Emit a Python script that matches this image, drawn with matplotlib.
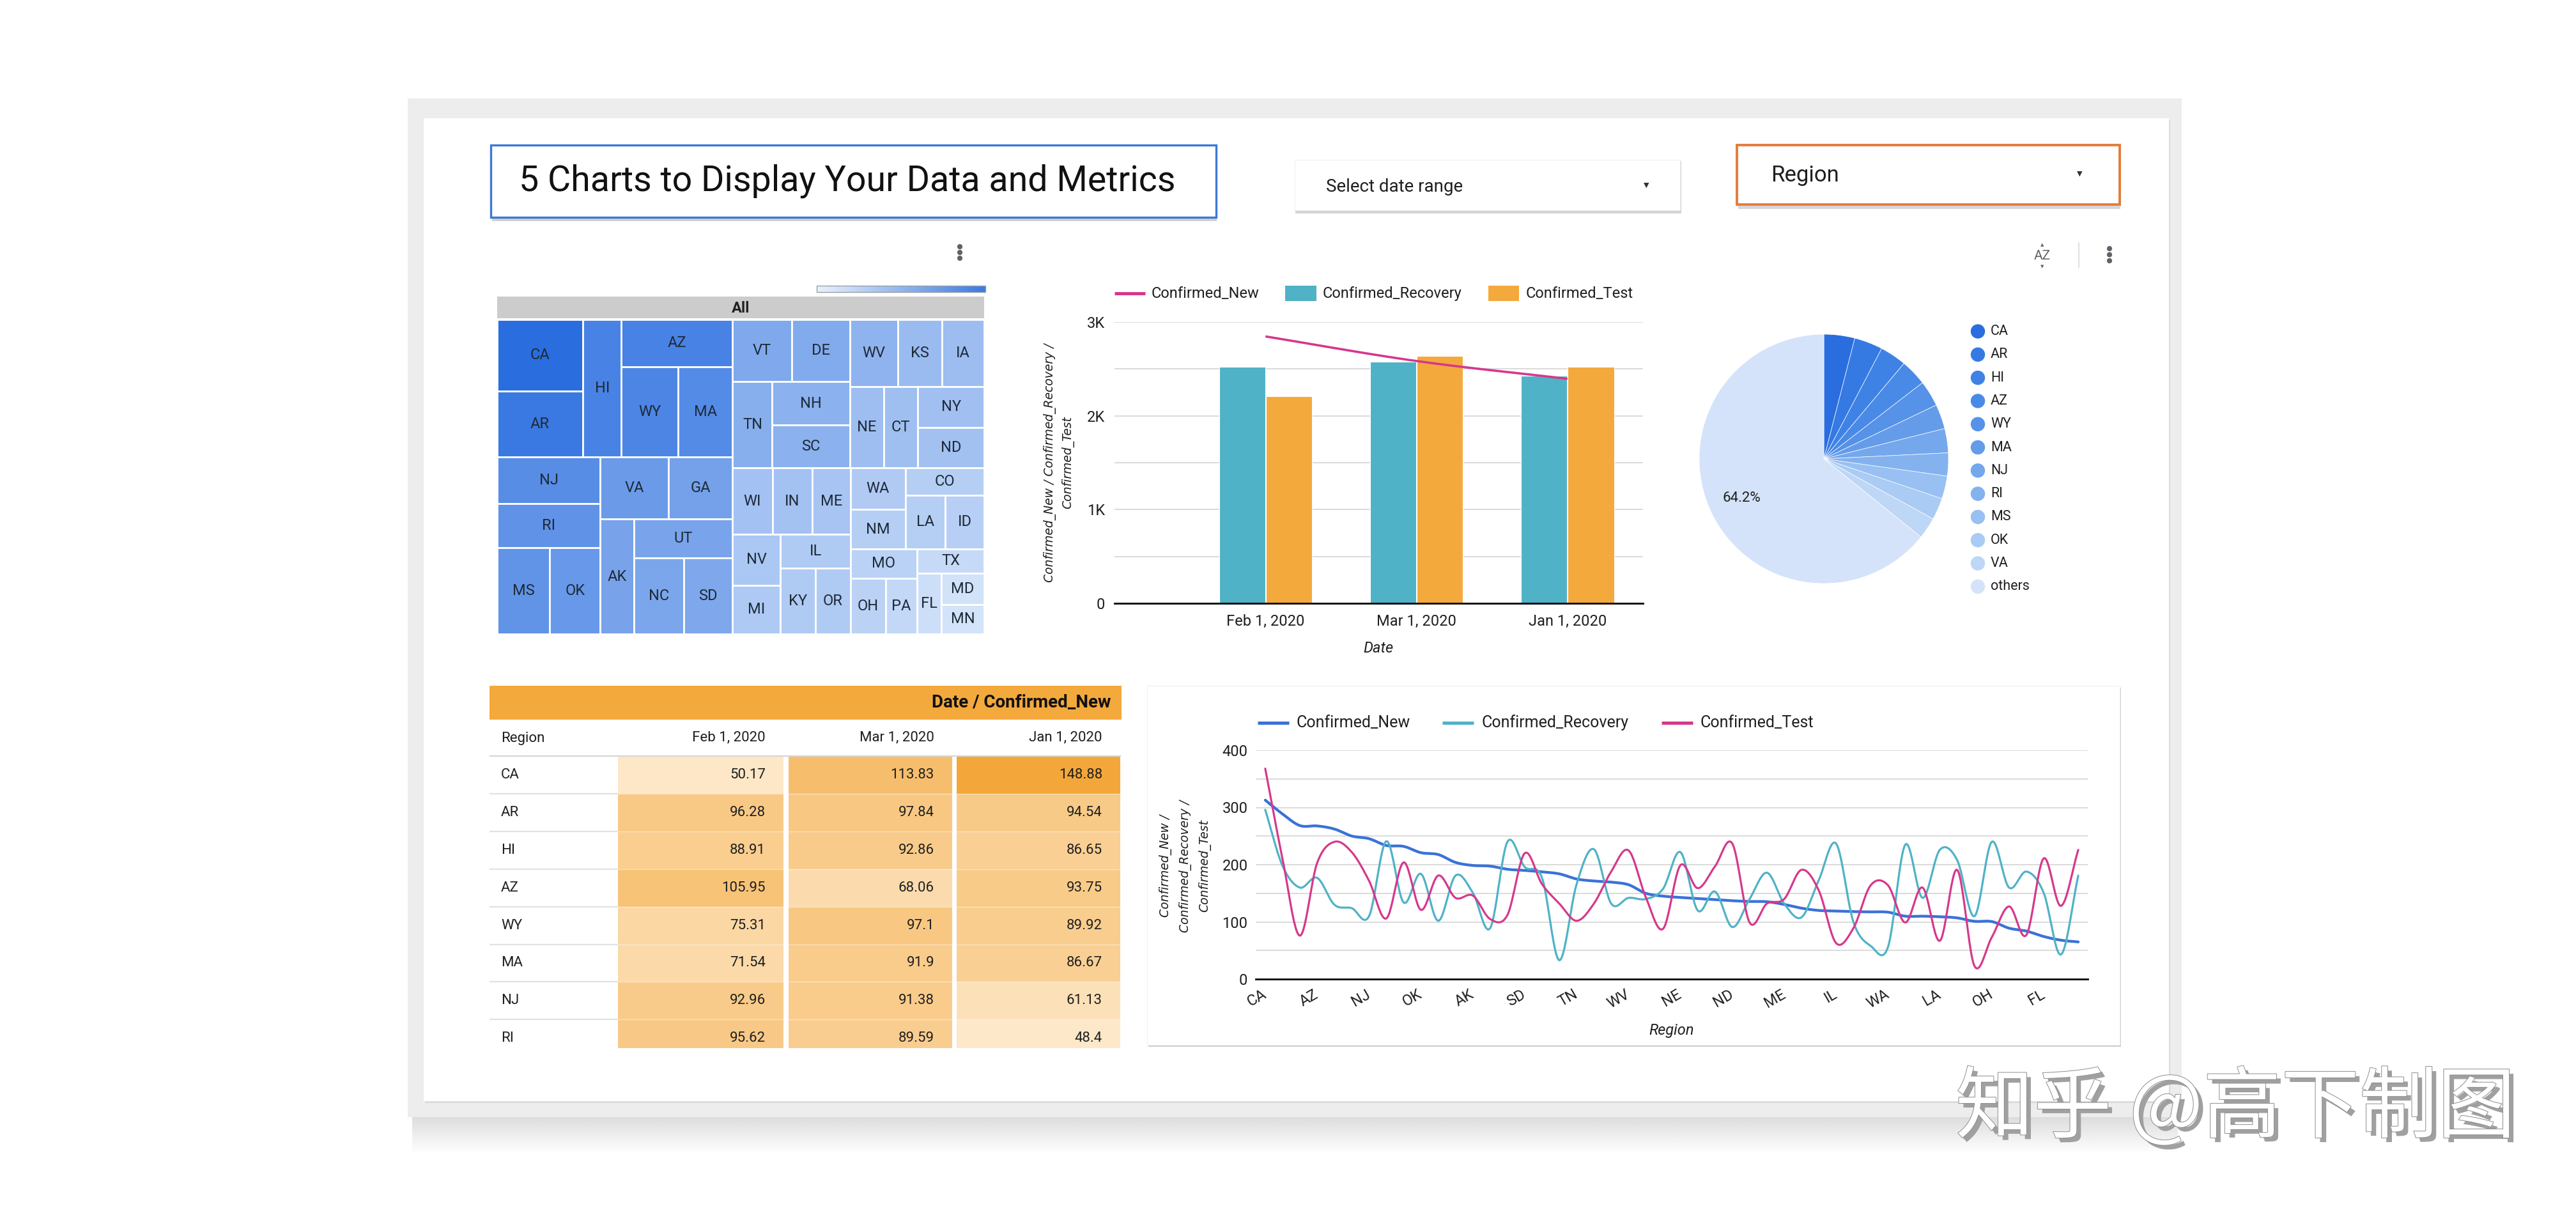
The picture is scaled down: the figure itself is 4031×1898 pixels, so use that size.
import numpy as np
import matplotlib
matplotlib.use("Agg")
import matplotlib.pyplot as plt
from matplotlib.patches import Rectangle, Circle
import matplotlib.patheffects as pe
from matplotlib.colors import LinearSegmentedColormap, Normalize

plt.rcParams['font.family'] = ['Roboto', 'DejaVu Sans']

W, H = 4031, 1898

# ---------------- data ----------------
regions = ["CA", "AR", "HI", "AZ", "WY", "MA", "NJ", "RI", "MS", "OK", "VA", "GA",
           "AK", "UT", "NC", "SD", "VT", "DE", "TN", "NH", "SC", "WV", "KS", "IA",
           "NE", "CT", "NY", "ND", "WI", "IN", "ME", "NV", "MI", "IL", "KY", "OR",
           "WA", "NM", "CO", "LA", "ID", "MO", "OH", "PA", "TX", "FL", "MD", "MN"]
confirmed_new = [312.88, 288.66, 268.42, 267.76, 262.33, 250.11, 245.47, 233.61, 232, 221, 217.76, 204,
                 198.7, 197.5, 192, 190, 187.5, 184, 175, 171.5, 169.6, 165, 150, 145,
                 142.7, 141, 139, 137, 135.7, 135.3, 130.5, 124, 120, 119, 118, 117.5,
                 117, 110, 110, 109, 107, 101, 100.6, 89, 84, 74.5, 68, 65]
confirmed_recovery = [296, 198, 160, 177, 130, 124, 110, 241, 134, 184, 102, 181,
                      151, 89, 240, 196, 177, 33, 166, 227, 132, 142, 140, 158,
                      222, 120, 153, 91, 140, 186, 132, 108, 173, 237, 100, 58,
                      56, 235, 142, 226, 208, 110, 240, 160, 188, 151, 43, 181]
confirmed_test = [368, 210, 76, 203, 240, 222, 172, 106, 204, 121, 181, 142,
                  146, 105, 112, 220, 166, 132, 102, 132, 188, 225, 143, 88,
                  199, 159, 197, 237, 99, 132, 140, 191, 155, 63, 89, 164,
                  164, 99, 160, 67, 191, 23, 73, 127, 77, 211, 128, 226]

bar_dates = ["Feb 1, 2020", "Mar 1, 2020", "Jan 1, 2020"]
bar_recovery = [2525, 2580, 2430]
bar_test = [2211, 2636, 2525]
bar_new = [2847, 2585, 2395]

table_regions = ["CA", "AR", "HI", "AZ", "WY", "MA", "NJ", "RI"]
table_dates = ["Feb 1, 2020", "Mar 1, 2020", "Jan 1, 2020"]
table_feb = [50.17, 96.28, 88.91, 105.95, 75.31, 71.54, 92.96, 95.62]
table_mar = [113.83, 97.84, 92.86, 68.06, 97.1, 91.9, 91.38, 89.59]
table_jan = [148.88, 94.54, 86.65, 93.75, 89.92, 86.67, 61.13, 48.4]

pie_top_n = 11
pie_colors = ['#2a6ddf', '#357ae3', '#3f82e5', '#4a8ae7', '#5592e8', '#649cea',
              '#74a7ec', '#84b2ef', '#98c0f2', '#a9cbf4', '#bed7f6', '#d4e3f9']

C_NEW = '#3a72d8'
C_REC = '#4fb2c6'
C_TEST = '#d6388c'
C_ORANGE = '#f4a93c'
TXT = '#1f1f1f'

# ---------------- helpers ----------------
fig = plt.figure(figsize=(W / 100, H / 100), dpi=100)
fig.patch.set_facecolor('white')


def px_axes(x0, y0, x1, y1, z=2):
    ax = fig.add_axes([x0 / W, 1 - y1 / H, (x1 - x0) / W, (y1 - y0) / H])
    ax.set_zorder(z)
    ax.patch.set_alpha(0)
    return ax


def smooth(y, n=24):
    y = np.asarray(y, float)
    if len(y) < 2:
        return np.arange(len(y)), y
    p = np.concatenate([[2 * y[0] - y[1]], y, [2 * y[-1] - y[-2]]])
    t = np.linspace(0, 1, n, endpoint=False)
    h00 = 2 * t**3 - 3 * t**2 + 1
    h10 = t**3 - 2 * t**2 + t
    h01 = -2 * t**3 + 3 * t**2
    h11 = t**3 - t**2
    xs, ys = [], []
    for i in range(len(y) - 1):
        p0, p1, p2, p3 = p[i], p[i + 1], p[i + 2], p[i + 3]
        m1 = (p2 - p0) / 2
        m2 = (p3 - p1) / 2
        ys.append(h00 * p1 + h10 * m1 + h01 * p2 + h11 * m2)
        xs.append(i + t)
    xs.append([len(y) - 1])
    ys.append([y[-1]])
    return np.concatenate(xs), np.concatenate(ys)


def binary_layout(vals, idx, x0, y0, x1, y1, out):
    if len(idx) == 1:
        out[idx[0]] = (x0, y0, x1, y1)
        return
    v = np.array([vals[i] for i in idx], float)
    total = v.sum()
    cum = np.cumsum(v)
    k = int(np.sum(cum <= total / 2))
    k = min(max(k, 1), len(idx) - 1)
    frac = cum[k - 1] / total
    if (x1 - x0) > (y1 - y0):
        xk = x0 + (x1 - x0) * frac
        binary_layout(vals, idx[:k], x0, y0, xk, y1, out)
        binary_layout(vals, idx[k:], xk, y0, x1, y1, out)
    else:
        yk = y0 + (y1 - y0) * frac
        binary_layout(vals, idx[:k], x0, y0, x1, yk, out)
        binary_layout(vals, idx[k:], x0, yk, x1, y1, out)


# ---------------- background / frame ----------------
bg = px_axes(0, 0, W, H, z=0)
bg.set_xlim(0, W)
bg.set_ylim(H, 0)
bg.axis('off')

grad = np.linspace(0.86, 1.0, 60)[:, None]
bg.imshow(grad, extent=(645, 3408, 1805, 1746), cmap='gray', vmin=0, vmax=1,
          aspect='auto', zorder=0)
bg.add_patch(Rectangle((638, 154), 2776, 1594, facecolor='#ededed', edgecolor='none', zorder=1))
bg.add_patch(Rectangle((665, 188), 2731, 1538, facecolor='#dcdcdc', edgecolor='none', zorder=1.5))
bg.add_patch(Rectangle((663, 185), 2731, 1538, facecolor='white', edgecolor='none', zorder=2))

# title box
bg.add_patch(Rectangle((770, 341), 1134, 5, facecolor='#d0d0d0', edgecolor='none', zorder=2.5))
bg.add_patch(Rectangle((768, 227), 1135, 113, facecolor='white', edgecolor='#3c78d8',
                       linewidth=2.4, zorder=3))
bg.text(812, 283, "5 Charts to Display Your Data and Metrics", fontsize=40, color='#111111',
        ha='left', va='center', zorder=4)

# date range box
bg.add_patch(Rectangle((2027, 252), 604, 82, facecolor='#d4d4d4', edgecolor='none', zorder=2.5))
bg.add_patch(Rectangle((2026, 250), 603, 79, facecolor='white', edgecolor='#ececec',
                       linewidth=0.6, zorder=3))
bg.text(2075, 292, "Select date range", fontsize=20, color=TXT, ha='left', va='center', zorder=4)
bg.text(2576, 290, "\u25BC", fontsize=8, family='DejaVu Sans', color='#333333',
        ha='center', va='center', zorder=4)

# region box
bg.add_patch(Rectangle((2720, 322), 598, 5, facecolor='#d6d6d6', edgecolor='none', zorder=2.5))
bg.add_patch(Rectangle((2718, 227), 599, 93, facecolor='white', edgecolor='#e47b3b',
                       linewidth=2.8, zorder=3))
bg.text(2771, 274, "Region", fontsize=25, color=TXT, ha='left', va='center', zorder=4)
bg.text(3254, 272, "\u25BC", fontsize=8, family='DejaVu Sans', color='#333333',
        ha='center', va='center', zorder=4)

# icons
for k in range(3):
    bg.add_patch(Circle((1502, 386 + 9 * k), 3.4, color='#5f6368', zorder=4))
    bg.add_patch(Circle((3301, 389 + 9.5 * k), 3.4, color='#5f6368', zorder=4))
bg.plot([3253, 3253], [380, 418], color='#dadce0', lw=1.3, zorder=4)
bg.text(3196, 400, "AZ", fontsize=15, color='#5f6368', ha='center', va='center', zorder=4)
bg.text(3196, 383, "\u25B2", fontsize=5, family='DejaVu Sans', color='#5f6368', ha='center', va='center', zorder=4)
bg.text(3196, 417, "\u25BC", fontsize=5, family='DejaVu Sans', color='#5f6368', ha='center', va='center', zorder=4)

# ---------------- treemap ----------------
tm_cmap = LinearSegmentedColormap.from_list('tm', ['#d3e3f9', '#2a6ddf'])
tm_norm = Normalize(min(confirmed_new), max(confirmed_new))

bg.add_patch(Rectangle((778, 464), 762, 34, facecolor='#cccccc', edgecolor='none', zorder=3))
bg.text(1159, 482, "All", fontsize=17, fontweight='bold', color='#222222',
        ha='center', va='center', zorder=4)
cb = np.linspace(0, 1, 256)[None, :]
bg.imshow(cb, extent=(1278, 1542, 457, 447), cmap=LinearSegmentedColormap.from_list('cb', ['#eaf1fc', '#3a7be0']),
          aspect='auto', zorder=3)
bg.add_patch(Rectangle((1278, 447), 264, 10, facecolor='none', edgecolor='#9aa0a6', linewidth=1.0, zorder=4))

ax_tm = px_axes(778, 500, 1540, 992)
ax_tm.set_xlim(0, 762)
ax_tm.set_ylim(492, 0)
ax_tm.axis('off')
cells = {}
binary_layout(confirmed_new, list(range(len(regions))), 0, 0, 762, 492, cells)
for i, reg in enumerate(regions):
    x0, y0, x1, y1 = cells[i]
    ax_tm.add_patch(Rectangle((x0, y0), x1 - x0, y1 - y0, facecolor=tm_cmap(tm_norm(confirmed_new[i])),
                              edgecolor='white', linewidth=2.0))
    ax_tm.text((x0 + x1) / 2, (y0 + y1) / 2, reg, fontsize=17, color='#1e2a38',
               ha='center', va='center')

# ---------------- bar + line combo chart ----------------
ax_bar = px_axes(1744, 504, 2571, 944)
xb = np.arange(len(bar_dates))
ax_bar.bar(xb - 0.155, bar_recovery, width=0.305, color=C_REC, edgecolor='white', linewidth=0.8, zorder=3)
ax_bar.bar(xb + 0.155, bar_test, width=0.305, color=C_ORANGE, edgecolor='white', linewidth=0.8, zorder=3)
sx, sy = smooth(bar_new)
ax_bar.plot(sx, sy, color=C_TEST, lw=2.6, zorder=4, solid_capstyle='butt')
ax_bar.set_xlim(-1, 2.5)
ax_bar.set_ylim(0, 3000)
yt = np.arange(0, 3001, 500)
ax_bar.set_yticks(yt)
ax_bar.set_yticklabels(['0' if v == 0 else (f"{v // 1000}K" if v % 1000 == 0 else '') for v in yt])
ax_bar.set_xticks(xb)
ax_bar.set_xticklabels(bar_dates)
ax_bar.yaxis.grid(True, color='#d4d4d4', lw=1.2)
ax_bar.set_axisbelow(True)
for s in ['top', 'right', 'left']:
    ax_bar.spines[s].set_visible(False)
ax_bar.spines['bottom'].set_color('black')
ax_bar.spines['bottom'].set_linewidth(2.0)
ax_bar.spines['bottom'].set_zorder(5)
ax_bar.tick_params(axis='both', length=0, labelsize=17, colors=TXT)
ax_bar.tick_params(axis='y', pad=11)
ax_bar.tick_params(axis='x', pad=12)

bg.plot([1744, 1792], [459, 459], color=C_TEST, lw=3.6, solid_capstyle='butt', zorder=4)
bg.text(1802, 459, "Confirmed_New", fontsize=17, color=TXT, ha='left', va='center', zorder=4)
bg.add_patch(Rectangle((2011, 447), 49, 24, facecolor=C_REC, edgecolor='none', zorder=4))
bg.text(2070, 459, "Confirmed_Recovery", fontsize=17, color=TXT, ha='left', va='center', zorder=4)
bg.add_patch(Rectangle((2329, 447), 48, 24, facecolor=C_ORANGE, edgecolor='none', zorder=4))
bg.text(2388, 459, "Confirmed_Test", fontsize=17, color=TXT, ha='left', va='center', zorder=4)
bg.text(1657, 724, "Confirmed_New / Confirmed_Recovery /\nConfirmed_Test", fontsize=13.5,
        family='DejaVu Sans', style='italic', rotation=90, ha='center', va='center',
        multialignment='center', linespacing=1.55, color=TXT, zorder=4)
bg.text(2157, 1014, "Date", fontsize=17, style='italic', color=TXT, ha='center', va='center', zorder=4)

# ---------------- pie ----------------
ax_pie = px_axes(2659, 523, 3049, 913)
pie_vals = confirmed_new[:pie_top_n] + [sum(confirmed_new[pie_top_n:])]
pie_labels = regions[:pie_top_n] + ['others']
ax_pie.pie(pie_vals, colors=pie_colors, startangle=90, counterclock=False, radius=1,
           wedgeprops=dict(edgecolor='white', linewidth=0.5),
           autopct=lambda p: f"{p:.1f}%" if p > 50 else '', pctdistance=0.73,
           textprops=dict(fontsize=16, color=TXT))
ax_pie.set_xlim(-1, 1)
ax_pie.set_ylim(-1, 1)
ax_pie.set_aspect('equal')
ax_pie.axis('off')
for k, (lab, col) in enumerate(zip(pie_labels, pie_colors)):
    yy = 518.5 + 36.3 * k
    bg.add_patch(Circle((3095, yy), 10.5, color=col, zorder=4))
    bg.text(3115, yy, lab, fontsize=15.5, color=TXT, ha='left', va='center', zorder=4)

# ---------------- table ----------------
ax_tab = px_axes(766, 1073, 1755, 1640)
ax_tab.set_xlim(766, 1755)
ax_tab.set_ylim(1640, 1073)
ax_tab.axis('off')
t_cmap = LinearSegmentedColormap.from_list('tb', ['#fde8c9', '#f3a73a'])
all_t = table_feb + table_mar + table_jan
t_norm = Normalize(min(all_t), max(all_t))
ax_tab.add_patch(Rectangle((766, 1073), 989, 53, facecolor=C_ORANGE, edgecolor='none'))
ax_tab.text(1738, 1100, "Date / Confirmed_New", fontsize=20, fontweight='bold', color='#111111',
            ha='right', va='center')
ax_tab.text(784, 1156, "Region", fontsize=16, color=TXT, ha='left', va='center')
col_x = [967, 1234, 1497]
col_w = [259, 256, 256]
row_h = 58.9
row_top = 1183
for c, d in enumerate(table_dates):
    ax_tab.text(col_x[c] + col_w[c] - 28, 1154, d, fontsize=16, color=TXT, ha='right', va='center')
ax_tab.plot([766, 1753], [row_top, row_top], color='#d6d6d6', lw=1.6)
for r, reg in enumerate(table_regions):
    y = row_top + r * row_h
    ax_tab.text(784, y + row_h / 2, reg, fontsize=16, color=TXT, ha='left', va='center')
    for c, vals in enumerate([table_feb, table_mar, table_jan]):
        v = vals[r]
        ax_tab.add_patch(Rectangle((col_x[c], y), col_w[c], row_h, facecolor=t_cmap(t_norm(v)),
                                   edgecolor='none'))
        ax_tab.text(col_x[c] + col_w[c] - 28, y + row_h / 2, f"{v:g}", fontsize=16, color=TXT,
                    ha='right', va='center')
    if r > 0:
        ax_tab.plot([766, 967], [y, y], color='#e2e2e2', lw=1.6)
        for c in range(3):
            ax_tab.plot([col_x[c], col_x[c] + col_w[c]], [y, y], color='white', lw=1.0, alpha=0.45)

# ---------------- line chart card ----------------
bg.add_patch(Rectangle((1797, 1076), 1522, 562, facecolor='#d2d2d2', edgecolor='none', zorder=2.5))
bg.add_patch(Rectangle((1795, 1073), 1522, 562, facecolor='white', edgecolor='#ececec',
                       linewidth=0.6, zorder=3))

ax_line = px_axes(1965, 1174, 3267, 1532, z=3)
xl = np.arange(len(regions))
for vals, col, lw in [(confirmed_new, C_NEW, 3.1), (confirmed_recovery, C_REC, 2.3),
                      (confirmed_test, C_TEST, 2.3)]:
    sx, sy = smooth(vals)
    ax_line.plot(sx, sy, color=col, lw=lw, zorder=3, solid_capstyle='round')
ax_line.set_xlim(-0.55, len(regions) - 0.45)
ax_line.set_ylim(0, 400)
ytl = np.arange(0, 401, 50)
ax_line.set_yticks(ytl)
ax_line.set_yticklabels([str(v) if v % 100 == 0 else '' for v in ytl])
ax_line.set_xticks(xl[::3])
ax_line.set_xticklabels(regions[::3])
plt.setp(ax_line.get_xticklabels(), rotation=30, ha='right', va='center', rotation_mode='anchor')
ax_line.yaxis.grid(True, color='#d4d4d4', lw=1.2)
ax_line.set_axisbelow(True)
for s in ['top', 'right', 'left']:
    ax_line.spines[s].set_visible(False)
ax_line.spines['bottom'].set_color('black')
ax_line.spines['bottom'].set_linewidth(2.0)
ax_line.tick_params(axis='both', length=0, labelsize=17, colors=TXT)
ax_line.tick_params(axis='y', pad=9)
ax_line.tick_params(axis='x', pad=16)

for x0, col, lab in [(1968, C_NEW, "Confirmed_New"), (2257, C_REC, "Confirmed_Recovery"),
                     (2600, C_TEST, "Confirmed_Test")]:
    bg.plot([x0, x0 + 49], [1131, 1131], color=col, lw=3.6, solid_capstyle='butt', zorder=4)
    bg.text(x0 + 61, 1131, lab, fontsize=18, color=TXT, ha='left', va='center', zorder=4)
bg.text(1855, 1355, "Confirmed_New /\nConfirmed_Recovery /\nConfirmed_Test", fontsize=13.5,
        family='DejaVu Sans', style='italic', rotation=90, ha='center', va='center',
        multialignment='center', linespacing=1.7, color=TXT, zorder=4)
bg.text(2616, 1612, "Region", fontsize=17, style='italic', color=TXT, ha='center', va='center', zorder=4)

# ---------------- watermark ----------------
fig.text(3060 / W, 1 - 1736 / H, "知乎 @高下制图", fontsize=88,
         family=['Noto Sans CJK SC', 'DejaVu Sans'], color='white', ha='left', va='center',
         zorder=20,
         path_effects=[pe.SimplePatchShadow(offset=(5, -5), shadow_rgbFace='#a0a0a0', alpha=1.0),
                       pe.Stroke(linewidth=1.4, foreground='#8c8c8c'), pe.Normal()])

fig.savefig('out.png', dpi=100, facecolor='white')
